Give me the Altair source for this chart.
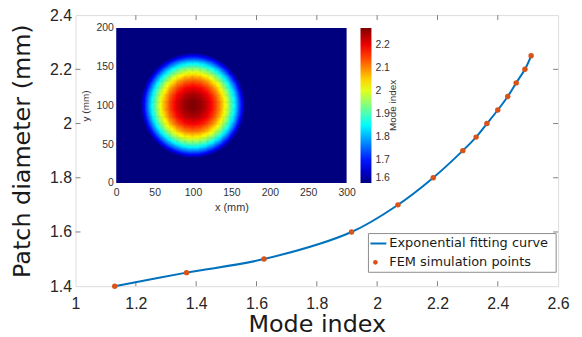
import altair as alt
import numpy as np
import pandas as pd

# ---- main data ----
mode_index = [1.130, 1.368, 1.625, 1.915, 2.069, 2.186, 2.284, 2.328, 2.364, 2.400, 2.433, 2.461, 2.490, 2.5105]
patch_diameter = [1.40, 1.45, 1.50, 1.60, 1.70, 1.80, 1.90, 1.95, 2.00, 2.05, 2.10, 2.15, 2.20, 2.25]

x_ticks = [1, 1.2, 1.4, 1.6, 1.8, 2, 2.2, 2.4, 2.6]
y_ticks = [1.4, 1.6, 1.8, 2, 2.2, 2.4]
x_inner_ticks = [1.2, 1.4, 1.6, 1.8, 2, 2.2, 2.4]
y_inner_ticks = [1.6, 1.8, 2, 2.2]

legend_labels = ["Exponential fitting curve", "FEM simulation points"]

# ---- inset field: radial profile of the mode index ----
inset_x_ticks = [0, 50, 100, 150, 200, 250, 300]
inset_y_ticks = [0, 50, 100, 150, 200]
patch_center_mm = [100, 100]
radius_mm = [0, 5, 10, 15, 20, 25, 30, 35, 40, 45, 50, 55, 60, 65, 68]
mode_profile = [2.27, 2.266, 2.255, 2.237, 2.212, 2.179, 2.140, 2.093, 2.038, 1.977, 1.908, 1.832, 1.748, 1.658, 1.60]
cbar_min, cbar_max = 1.6, 2.272
cbar_ticks = [1.6, 1.7, 1.8, 1.9, 2, 2.1, 2.2]
jet_colors = ["#00007F", "#0000FF", "#007FFF", "#00FFFF", "#7FFF7F",
              "#FFFF00", "#FF7F00", "#FF0000", "#7F0000"]

W, H = 486, 273
FRAME = "#808080"
LABEL = "#262626"

main_df = pd.DataFrame({"mode_index": mode_index, "diameter": patch_diameter})

xs = alt.Scale(domain=[1, 2.6], nice=False, zero=False)
ys = alt.Scale(domain=[1.4, 2.4], nice=False, zero=False)
xaxis = alt.Axis(title="Mode index", values=x_ticks, format="~g", ticks=False, tickSize=0,
                 domain=False, grid=False, labelFlush=False,
                 labelFont="Liberation Sans", labelFontSize=16, labelColor=LABEL, labelPadding=9,
                 titleFont="DejaVu Sans", titleFontSize=24, titleFontWeight="normal",
                 titleColor="#1a1a1a", titlePadding=2)
yaxis = alt.Axis(title="Patch diameter (mm)", values=y_ticks, format="~g", ticks=False, tickSize=0,
                 domain=False, grid=False, labelFlush=False,
                 labelFont="Liberation Sans", labelFontSize=16, labelColor=LABEL, labelPadding=4,
                 titleFont="DejaVu Sans", titleFontSize=24, titleFontWeight="normal",
                 titleColor="#1a1a1a", titlePadding=15)

X = lambda f: alt.X(f, type="quantitative", scale=xs, axis=xaxis)
Y = lambda f: alt.Y(f, type="quantitative", scale=ys, axis=yaxis)

xt_df = pd.DataFrame({"mode_index": x_inner_ticks})
yt_df = pd.DataFrame({"diameter": y_inner_ticks})

tick_b = alt.Chart(xt_df).mark_rule(color=FRAME, strokeWidth=1).encode(
    x=X("mode_index"), y=alt.value(H), y2=alt.value(H - 5))
tick_t = alt.Chart(xt_df).mark_rule(color=FRAME, strokeWidth=1).encode(
    x=X("mode_index"), y=alt.value(0), y2=alt.value(5))
tick_l = alt.Chart(yt_df).mark_rule(color=FRAME, strokeWidth=1).encode(
    y=Y("diameter"), x=alt.value(0), x2=alt.value(5))
tick_r = alt.Chart(yt_df).mark_rule(color=FRAME, strokeWidth=1).encode(
    y=Y("diameter"), x=alt.value(W), x2=alt.value(W - 5))

line = alt.Chart(main_df).mark_line(color="#0072BD", strokeWidth=2, interpolate="catmull-rom").encode(
    x=X("mode_index"), y=Y("diameter"))
pts = alt.Chart(main_df).mark_point(filled=True, color="#D95319", size=30, opacity=1).encode(
    x=X("mode_index"), y=Y("diameter"))

# legend box (decoration)
one = pd.DataFrame({"a": [0]})
lg_box = alt.Chart(one).mark_rect(fill="white", stroke="#8c8c8c", strokeWidth=1).encode(
    x=alt.value(295), x2=alt.value(484), y=alt.value(220), y2=alt.value(259))
lg_line = alt.Chart(one).mark_rule(color="#0072BD", strokeWidth=2).encode(
    x=alt.value(297), x2=alt.value(313), y=alt.value(230))
lg_pt = alt.Chart(one).mark_point(filled=True, color="#D95319", size=22, opacity=1).encode(
    x=alt.value(302), y=alt.value(249))
lg_t1 = alt.Chart(pd.DataFrame({"label": [legend_labels[0]]})).mark_text(
    font="DejaVu Sans", fontSize=13, color="#1a1a1a", align="left", baseline="middle").encode(
    text="label:N", x=alt.value(316), y=alt.value(230))
lg_t2 = alt.Chart(pd.DataFrame({"label": [legend_labels[1]]})).mark_text(
    font="DejaVu Sans", fontSize=13, color="#1a1a1a", align="left", baseline="middle").encode(
    text="label:N", x=alt.value(316), y=alt.value(249))
cbar_title = alt.Chart(pd.DataFrame({"label": ["Mode index"]})).mark_text(
    font="Liberation Sans", fontSize=10, color="#333333", angle=270, align="center", baseline="middle").encode(
    text="label:N", x=alt.value(320), y=alt.value(91))

main = alt.layer(tick_b, tick_t, tick_l, tick_r, line, pts)

# ---- inset heatmap ----
cx, cy = patch_center_mm
step = 1.5
rows = []
for gx in np.arange(cx - 70, cx + 70, step):
    for gy in np.arange(cy - 70, cy + 70, step):
        r = np.hypot(gx + step / 2 - cx, gy + step / 2 - cy)
        if r <= 69:
            v = float(np.interp(r, radius_mm, mode_profile))
            rows.append((gx, gx + step + 0.6, gy, gy + step + 0.6, v))
cells = pd.DataFrame(rows, columns=["x0", "x1", "y0", "y1", "v"])
bg = pd.DataFrame({"x0": [0], "x1": [300], "y0": [0], "y1": [200], "v": [cbar_min]})
heat_df = pd.concat([bg, cells], ignore_index=True)

stops = [cbar_min + i * (cbar_max - cbar_min) / 8 for i in range(9)]
cscale = alt.Scale(domain=stops, range=jet_colors, interpolate="rgb")
clegend = alt.Legend(type="gradient", orient="none", legendX=287, legendY=13, direction="vertical",
                     gradientLength=156, gradientThickness=11, padding=0, title=None,
                     values=cbar_ticks, format="~g", labelFont="Liberation Sans", labelFontSize=10.5,
                     labelColor="#333333", labelOffset=4, labelBaseline="middle",
                     gradientStrokeWidth=0)

ixs = alt.Scale(domain=[0, 300], range=[41, 273], nice=False, zero=False)
iys = alt.Scale(domain=[0, 200], range=[169, 13], nice=False, zero=False)
ixaxis = alt.Axis(title="x (mm)", values=inset_x_ticks, orient="bottom", offset=-104,
                  ticks=False, tickSize=0, domain=False, grid=False, labelFlush=False,
                  labelFont="Liberation Sans", labelFontSize=10.5, labelColor="#333333", labelPadding=5,
                  titleFont="Liberation Sans", titleFontSize=11, titleFontWeight="normal",
                  titleColor="#333333", titlePadding=3)
iyaxis = alt.Axis(title="y (mm)", values=inset_y_ticks, orient="left", offset=-41,
                  ticks=False, tickSize=0, domain=False, grid=False, labelFlush=False,
                  labelFont="Liberation Sans", labelFontSize=10.5, labelColor="#333333", labelPadding=3,
                  titleFont="Liberation Sans", titleFontSize=10, titleFontWeight="normal",
                  titleColor="#333333", titlePadding=5)

inset = alt.Chart(heat_df).mark_rect(strokeWidth=0).encode(
    x=alt.X("x0:Q", scale=ixs, axis=ixaxis),
    x2="x1:Q",
    y=alt.Y("y0:Q", scale=iys, axis=iyaxis),
    y2="y1:Q",
    color=alt.Color("v:Q", scale=cscale, legend=clegend),
)

deco = alt.layer(lg_box, lg_line, lg_pt, lg_t1, lg_t2, cbar_title)

chart = alt.layer(main, inset, deco).resolve_scale(x="independent", y="independent").properties(
    width=W, height=H,
    autosize=alt.AutoSizeParams(type="none"),
    padding={"left": 68, "top": 6, "right": 16, "bottom": 50},
).configure_view(stroke=FRAME, strokeWidth=1).configure(background="white")

chart.save("out.html", embed_options={"renderer": "svg", "actions": False})
